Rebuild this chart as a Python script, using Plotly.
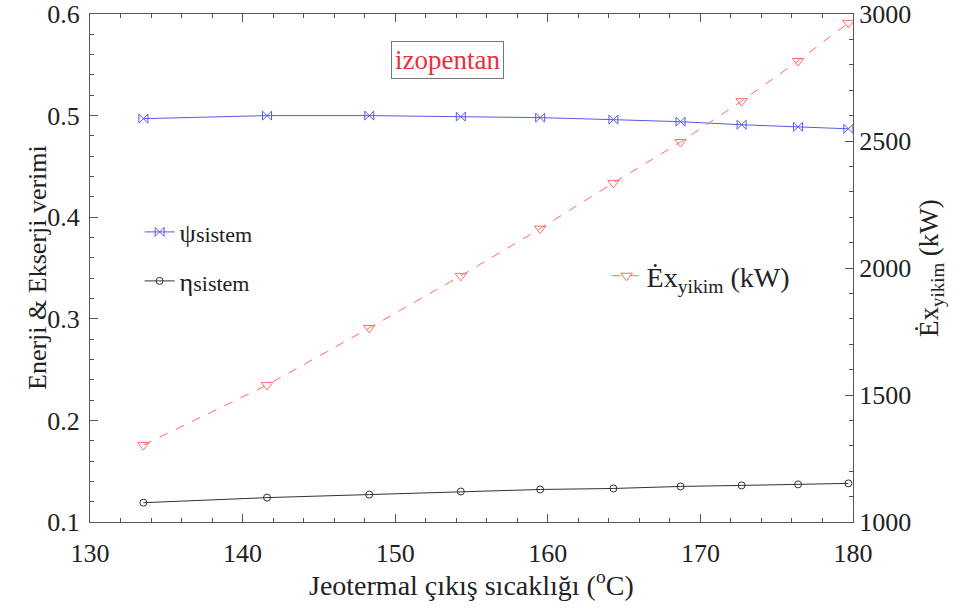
import plotly.graph_objects as go

# Data
T_out = [133.5, 141.6, 148.3, 154.3, 159.5, 164.3, 168.7, 172.7, 176.4, 179.7]
psi_sistem = [0.497, 0.500, 0.500, 0.499, 0.498, 0.496, 0.494, 0.491, 0.489, 0.487]
eta_sistem = [0.119, 0.124, 0.127, 0.130, 0.132, 0.133, 0.135, 0.136, 0.137, 0.138]
ex_yikim = [1303, 1539, 1764, 1969, 2155, 2335, 2496, 2657, 2815, 2965]

FONT = "Times New Roman, Liberation Serif, serif"
BLUE = "#5a5ae6"
BLACK = "#333333"
RED = "#ff6b6b"
TXT = "#222222"

fig = go.Figure()
fig.add_trace(go.Scatter(
    x=T_out, y=psi_sistem, mode="lines+markers",
    name="ψ<span style='font-size:22px'>sistem</span>",
    line=dict(color=BLUE, width=1),
    marker=dict(symbol="bowtie-open", size=9, color=BLUE, line=dict(width=1, color=BLUE)),
    legend="legend", showlegend=True,
))
fig.add_trace(go.Scatter(
    x=T_out, y=eta_sistem, mode="lines+markers",
    name="η<span style='font-size:22px'>sistem</span>",
    line=dict(color=BLACK, width=1),
    marker=dict(symbol="circle-open", size=7, color=BLACK, line=dict(width=1, color=BLACK)),
    legend="legend2", showlegend=True,
))
fig.add_trace(go.Scatter(
    x=T_out, y=ex_yikim, mode="lines+markers", yaxis="y2",
    name="Ėx<sub>yikim</sub> (kW)",
    line=dict(color=RED, width=1, dash="dash"),
    marker=dict(symbol="triangle-down-open", size=10, color=RED, line=dict(width=1, color=RED)),
    legend="legend3", showlegend=True,
))

tickfont = dict(family=FONT, size=26, color=TXT)
axis_common = dict(
    showline=True, linecolor="#555555", linewidth=1, ticks="inside",
    tickcolor="#555555", ticklen=8, showgrid=False, zeroline=False,
    tickfont=tickfont,
)
minor_common = dict(ticklen=4, ticks="inside", tickcolor="#555555")

W, H = 955, 612
ml, mr, mt, mb = 90, 102, 14, 90


def py(pixel_y):
    return 1 - (pixel_y - mt) / (H - mt - mb)


legfont = dict(family=FONT, size=26, color=TXT)
fig.update_layout(
    width=W, height=H, autosize=False, showlegend=True,
    margin=dict(l=ml, r=mr, t=mt, b=mb, autoexpand=False),
    paper_bgcolor="white", plot_bgcolor="white",
    font=dict(family=FONT),
    xaxis=dict(range=[130, 180], dtick=10, mirror="ticks", ticklabelstandoff=8,
               minor=dict(dtick=2, **minor_common), **axis_common),
    yaxis=dict(range=[0.1, 0.6], dtick=0.1, tickformat=".1f", ticklabelstandoff=4,
               minor=dict(dtick=0.02, **minor_common), **axis_common),
    yaxis2=dict(range=[1000, 3000], dtick=500, overlaying="y", side="right",
                minor=dict(dtick=100, **minor_common), **axis_common),
    legend=dict(x=0.065, y=py(232), xanchor="left", yanchor="middle",
                bgcolor="rgba(0,0,0,0)", font=legfont),
    legend2=dict(x=0.065, y=py(281), xanchor="left", yanchor="middle",
                 bgcolor="rgba(0,0,0,0)", font=legfont),
    legend3=dict(x=0.677, y=py(276), xanchor="left", yanchor="middle",
                 bgcolor="rgba(0,0,0,0)", font=dict(family=FONT, size=28, color=TXT)),
    annotations=[
        dict(text="izopentan", xref="x", yref="paper", x=153.4,
             y=py(60), yanchor="middle",
             showarrow=False, font=dict(family=FONT, size=27, color="#e8303a"),
             bordercolor="#777777", borderwidth=1, borderpad=3, bgcolor="white"),
        dict(text="Jeotermal çıkış sıcaklığı (<sup>o</sup>C)", xref="paper", yref="paper",
             x=0.5, y=0, yshift=-61, yanchor="middle", showarrow=False,
             font=dict(family=FONT, size=28, color=TXT)),
        dict(text="Enerji & Ekserji verimi", xref="paper", yref="paper",
             x=0, y=0.5, xshift=-53, xanchor="center", yanchor="middle", textangle=-90,
             showarrow=False, font=dict(family=FONT, size=26, color=TXT)),
        dict(text="Ėx<sub>yikim</sub> (kW)", xref="paper", yref="paper",
             x=1, y=0.5, xshift=78, xanchor="center", yanchor="middle", textangle=-90,
             showarrow=False, font=dict(family=FONT, size=27, color=TXT)),
    ],
)

fig.write_html("out.html")
